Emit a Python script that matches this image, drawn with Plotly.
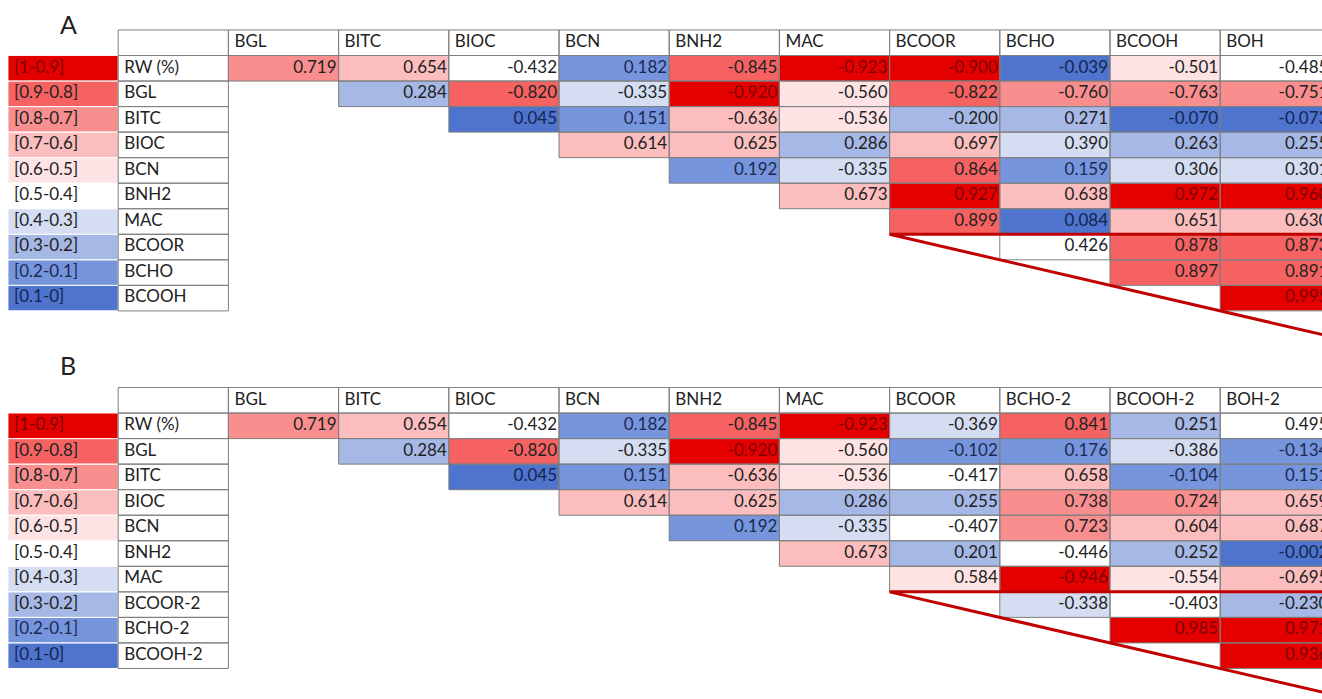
import plotly.graph_objects as go

# ---------------------------------------------------------------- data
range_labels = ["[1-0.9]", "[0.9-0.8]", "[0.8-0.7]", "[0.7-0.6]", "[0.6-0.5]",
                "[0.5-0.4]", "[0.4-0.3]", "[0.3-0.2]", "[0.2-0.1]", "[0.1-0]"]

columns_a = ["BGL", "BITC", "BIOC", "BCN", "BNH2", "MAC", "BCOOR", "BCHO", "BCOOH", "BOH"]
rows_a = ["RW (%)", "BGL", "BITC", "BIOC", "BCN", "BNH2", "MAC", "BCOOR", "BCHO", "BCOOH"]
values_a = [
    [0.719, 0.654, -0.432, 0.182, -0.845, -0.923, -0.900, -0.039, -0.501, -0.485],
    [0.284, -0.820, -0.335, -0.920, -0.560, -0.822, -0.760, -0.763, -0.751],
    [0.045, 0.151, -0.636, -0.536, -0.200, 0.271, -0.070, -0.073],
    [0.614, 0.625, 0.286, 0.697, 0.390, 0.263, 0.255],
    [0.192, -0.335, 0.864, 0.159, 0.306, 0.301],
    [0.673, 0.927, 0.638, 0.972, 0.960],
    [0.899, 0.084, 0.651, 0.630],
    [0.426, 0.878, 0.873],
    [0.897, 0.891],
    [0.995],
]

columns_b = ["BGL", "BITC", "BIOC", "BCN", "BNH2", "MAC", "BCOOR", "BCHO-2", "BCOOH-2", "BOH-2"]
rows_b = ["RW (%)", "BGL", "BITC", "BIOC", "BCN", "BNH2", "MAC", "BCOOR-2", "BCHO-2", "BCOOH-2"]
values_b = [
    [0.719, 0.654, -0.432, 0.182, -0.845, -0.923, -0.369, 0.841, 0.251, 0.495],
    [0.284, -0.820, -0.335, -0.920, -0.560, -0.102, 0.176, -0.386, -0.134],
    [0.045, 0.151, -0.636, -0.536, -0.417, 0.658, -0.104, 0.151],
    [0.614, 0.625, 0.286, 0.255, 0.738, 0.724, 0.659],
    [0.192, -0.335, -0.407, 0.723, 0.604, 0.687],
    [0.673, 0.201, -0.446, 0.252, -0.002],
    [0.584, -0.946, -0.554, -0.695],
    [-0.338, -0.403, -0.230],
    [0.985, 0.971],
    [0.936],
]

# fill colour per |r| class, index 0 = [0.1-0] ... 9 = [1-0.9]
bin_colors = ["#4e74ce", "#7695dc", "#a6b8e6", "#d4ddf2", "#ffffff",
              "#fde3e3", "#fbbdbd", "#f88e8e", "#f66262", "#e50000"]
bin_text = ["#15244d", "#1c2a52", "#222222", "#222222", "#222222",
            "#222222", "#222222", "#222222", "#222222", "#7d0000"]

# ---------------------------------------------------------------- geometry
W, H = 1322, 699
COL_W = 110.2          # pixels per table column
ROW_H = 25.54          # pixels per table row
LEFT_PX = 8            # left edge of the range column
TOP_PX = 55.5          # top edge of first data row in panel A
PANEL_B_OFFSET = 14    # panel B starts this many rows below panel A
FONT = "Lato"
TEXT = "#222222"
BORDER = "#7f7f7f"
CALLOUT = "#c00000"

x_range = [-2 - LEFT_PX / COL_W, -2 + (W - LEFT_PX) / COL_W]
y_range = [(H - TOP_PX) / ROW_H, -TOP_PX / ROW_H]
PAD_R = 2.0 / COL_W
PAD_L = 6.0 / COL_W


def r_bin(v):
    return min(int(abs(v) * 10 + 1e-9), 9)


colorscale = []
for k, c in enumerate(bin_colors):
    colorscale.append([k / 10, c])
    colorscale.append([(k + 1) / 10, c])

fig = go.Figure()

border_x, border_y = [], []
legend_x, legend_y = [], []


def rect(xs, ys, x0, y0, x1, y1):
    xs += [x0, x1, x1, x0, x0, None]
    ys += [y0, y0, y1, y1, y0, None]


txt = {"x": [], "y": [], "t": [], "c": [], "pos": []}


def add_text(x, y, t, c, pos):
    txt["x"].append(x)
    txt["y"].append(y)
    txt["t"].append(t)
    txt["c"].append(c)
    txt["pos"].append(pos)


def panel(columns, rows, values, off):
    n = len(columns)
    xs = [-1.5, -0.5] + [j + 0.5 for j in range(n)]
    ys = [off + i + 0.5 for i in range(len(rows))]
    z = []
    for i in range(len(rows)):
        legend_bin = 9 - i
        line = [legend_bin, None]
        for j in range(n):
            line.append(r_bin(values[i][j - i]) if j >= i else None)
        z.append(line)
    fig.add_trace(go.Heatmap(x=xs, y=ys, z=z, zmin=-0.5, zmax=9.5,
                             colorscale=colorscale, showscale=False,
                             hoverinfo="skip"))

    # header row
    rect(border_x, border_y, -1, off - 1, 0, off)
    for j, name in enumerate(columns):
        rect(border_x, border_y, j, off - 1, j + 1, off)
        add_text(j + PAD_L, off - 0.5, name, TEXT, "middle right")

    for i, name in enumerate(rows):
        # range legend cell
        rect(legend_x, legend_y, -2, off + i, -1, off + i + 1)
        lb = 9 - i
        add_text(-2 + PAD_L, off + i + 0.5, range_labels[i], bin_text[lb], "middle right")
        # row label cell
        rect(border_x, border_y, -1, off + i, 0, off + i + 1)
        add_text(-1 + PAD_L, off + i + 0.5, name, TEXT, "middle right")
        # correlation cells
        for j in range(i, n):
            v = values[i][j - i]
            rect(border_x, border_y, j, off + i, j + 1, off + i + 1)
            add_text(j + 1 - PAD_R, off + i + 0.5, f"{v:.3f}",
                     bin_text[r_bin(v)], "middle left")

    # callout from the lower block of the matrix
    zc = columns.index("BCOOR")
    zr = off + 7
    return zc, zr


callouts = [panel(columns_a, rows_a, values_a, 0),
            panel(columns_b, rows_b, values_b, PANEL_B_OFFSET)]

fig.add_trace(go.Scatter(x=legend_x, y=legend_y, mode="lines",
                         line=dict(color="rgba(255,255,255,0.85)", width=1),
                         hoverinfo="skip"))
fig.add_trace(go.Scatter(x=border_x, y=border_y, mode="lines",
                         line=dict(color=BORDER, width=1), hoverinfo="skip"))

cx, cy = [], []
for zc, zr in callouts:
    span = 6
    cx += [zc + span, zc, zc + span, None]
    cy += [zr, zr, zr + span, None]
fig.add_trace(go.Scatter(x=cx, y=cy, mode="lines",
                         line=dict(color=CALLOUT, width=3), hoverinfo="skip"))

for pos in ("middle left", "middle right"):
    idx = [k for k, p in enumerate(txt["pos"]) if p == pos]
    fig.add_trace(go.Scatter(
        x=[txt["x"][k] for k in idx], y=[txt["y"][k] for k in idx],
        text=[txt["t"][k] for k in idx], mode="text", textposition=pos,
        textfont=dict(family=FONT, size=17, color=[txt["c"][k] for k in idx]),
        hoverinfo="skip", cliponaxis=True))

for label, ypx in (("A", 24), ("B", 365)):
    fig.add_annotation(x=68 / W, y=1 - ypx / H, xref="paper", yref="paper",
                       xanchor="center", yanchor="middle",
                       text=label, showarrow=False,
                       font=dict(family=FONT, size=25, color=TEXT))

fig.update_xaxes(range=x_range, visible=False, fixedrange=True)
fig.update_yaxes(range=y_range, visible=False, fixedrange=True)
fig.update_layout(width=W, height=H, margin=dict(l=0, r=0, t=0, b=0),
                  paper_bgcolor="white", plot_bgcolor="white",
                  showlegend=False)

fig.write_html("out.html")
